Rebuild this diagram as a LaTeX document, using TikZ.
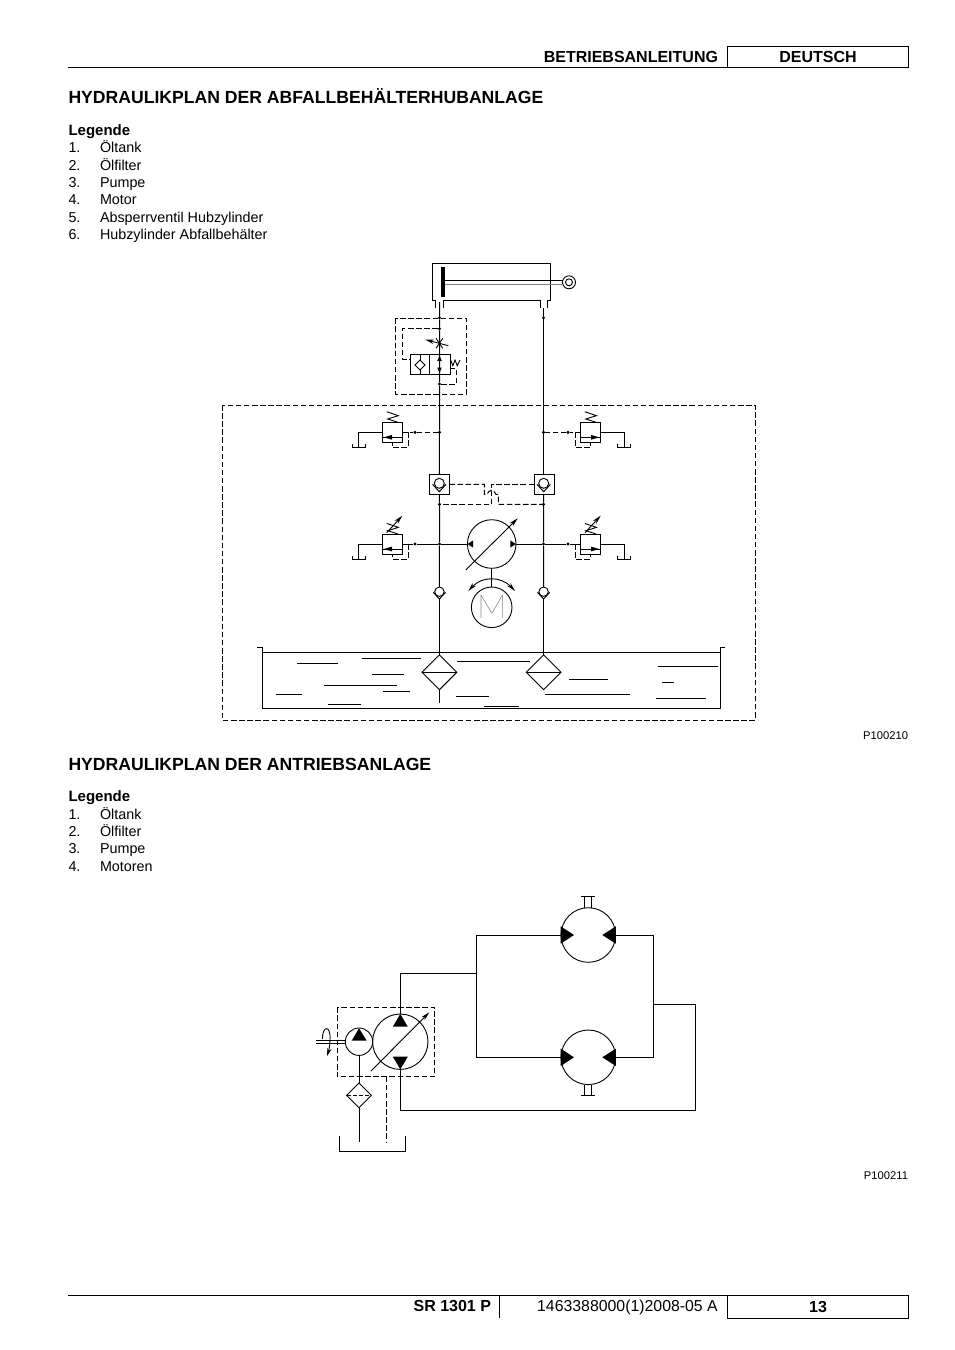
\documentclass[tikz,border=0pt]{standalone}
\usepackage{fontspec}
\setmainfont{Liberation Sans}
\newfontfamily\motorfont{Lato Hairline}
\usetikzlibrary{arrows.meta,shapes.geometric}
\begin{document}
\begin{tikzpicture}[x=1pt,y=-1pt,line width=1pt,
  head/.style={font=\fontsize{16}{18}\selectfont\bfseries,inner sep=0,outer sep=0},
  titel/.style={anchor=base west,font=\fontsize{17.6}{20}\selectfont\bfseries,inner sep=0},
  legtxt/.style={anchor=base west,font=\fontsize{14.35}{16}\selectfont,inner sep=0},
  legbf/.style={legtxt,font=\fontsize{15}{16}\selectfont\bfseries},
  foot/.style={anchor=base east,font=\fontsize{11.2}{13}\selectfont,inner sep=0},
  dsh/.style={dash pattern=on 5.5pt off 2.6pt},
  dot/.style={circle,fill,inner sep=0,minimum size=3.4pt,outer sep=0},
  sq/.style={draw,inner sep=0,outer sep=0,minimum size=20pt},
  rnd/.style={circle,draw,inner sep=0,outer sep=0,line width=.9pt},
  thn/.style={line width=.9pt},
  arr/.style={-{Stealth[length=9pt,width=4.4pt]},line width=.9pt}]
\useasboundingbox (0,0) rectangle (954,1350);
% page head
\coordinate (hl) at (68,67.5);
\coordinate (hr) at (727,67.5);
\draw (hl) -- (hr);
\node[draw,inner sep=0,outer sep=0,minimum width=181.5pt,minimum height=21.5pt,head] (lang) at (818,56.8){DEUTSCH};
\node[head,anchor=base east] (manual) at (718,62.5){BETRIEBSANLEITUNG};
% first legend
\node[titel] (tit1) at (68,103){HYDRAULIKPLAN DER ABFALLBEHÄLTERHUBANLAGE};
\node[legbf] (lega) at (68,135){Legende};
\foreach \n/\t/\y in {1/Öltank/152,2/Ölfilter/170,3/Pumpe/187,4/Motor/204,5/Absperrventil Hubzylinder/222,6/Hubzylinder Abfallbehälter/239}{
  \node[legtxt] (lan\n) at (68,\y){\n.};
  \node[legtxt] (lat\n) at (99.5,\y){\t};
}
\node[foot] (pa) at (908.5,739){P100210};
% cylinder
\draw (435.7,307.5) -- (435.7,300) -- (432,300) -- (432,263) -- (550.3,263) -- (550.3,300) -- (547.7,300) -- (547.7,307.5);
\draw (443.3,307.5) -- (443.3,300) -- (540.3,300) -- (540.3,307.5);
\node[fill,inner sep=0,outer sep=0,minimum width=3.8pt,minimum height=30pt] (pis) at (443.2,281.7){};
\node[rnd,minimum size=13pt] (eye) at (569,282.3){};
\node[rnd,minimum size=7pt] (eyei) at (569,282.3){};
\coordinate (roda) at (445,280.3);
\coordinate (rodb) at (563,280.3);
\coordinate (rodc) at (445,284.3);
\coordinate (rodd) at (563,284.3);
\draw (roda) -- (rodb);
\draw[gray,line width=1.5pt] (rodc) -- (rodd);
% shut-off valve
\node[dot] (lj1) at (439.5,317.7){};
\node[dot] (lj2) at (439.5,328.7){};
\node[dot] (lj3) at (439.5,384){};
\node[dot] (rj1) at (543.5,317.7){};
\draw[dsh] (395.7,318.3) rectangle (466.7,394);
\draw[dsh] (lj2) -- (402.3,328.7) -- (402.3,359) -- (410,359);
\draw[dsh] (lj3) -- (456.7,384) -- (456.7,368.5) -- (450.7,368.5);
\draw (410,354) rectangle (450.7,374.7);
\draw (429.7,354) -- (429.7,374.7);
\draw (420,354) -- (420,374.7);
\draw[fill=white,thn] (420,360) -- (425,365) -- (420,370) -- (415,365) -- cycle;
\fill (439.5,355.5) -- (441.8,361) -- (437.2,361) -- cycle;
\fill (439.5,373) -- (441.8,367.5) -- (437.2,367.5) -- cycle;
\draw[thn] (450.7,360) -- (452.8,365.7) -- (455,360) -- (457.3,365.7) -- (460,360);
\draw[arr] (448.3,345.7) -- (425,339.5);
\draw[thn] (436,338.3) -- (442.7,348.3);
\draw[thn] (442.7,338.3) -- (436,348.3);
% pressure side
\draw[dsh] (222,405) rectangle (755,720);
\node[sq] (cka) at (439.4,484.3){};
\node[sq] (ckb) at (544,484.3){};
\node[dot] (lj4) at (439.5,432.3){};
\node[dot] (rj4) at (543.5,432.3){};
\node[dot] (lj5) at (439.5,504.3){};
\node[dot] (rj5) at (543.5,504.3){};
\node[dot] (lj6) at (439.5,544){};
\node[dot] (rj6) at (543.5,544){};
\coordinate (cyla) at (439.5,302);
\coordinate (cylb) at (543.5,307.5);
\draw (cyla) -- (lj1) -- (lj2) -- (lj3) -- (lj4) -- (cka.north);
\draw (cylb) -- (rj1) -- (rj4) -- (ckb.north -| rj4);
\foreach \c/\k in {439.3/a,543.7/b}{
  \node[rnd,minimum size=10pt] (cki\k) at (\c,483.3){};
  \draw (\c-6.7,484.3) -- (\c,491.7) -- (\c+6.7,484.3);
}
\draw[dsh] (cka.east) -- (484.3,484.3) -- (484.3,494.3) -- (487,494.3) .. controls (489,489) and (494,489) .. (496,494.3) -- (498.3,494.3) -- (498.3,504.3) -- (rj5);
\draw[dsh] (ckb.west) -- (491.7,484.3) -- (491.7,504.3) -- (lj5);
% relief valves
\foreach \i/\vy/\vs in {1/432.3/1,2/432.3/-1,3/544/1,4/544/-1}{
  \begin{scope}[shift={(491.5,\vy)},xscale=\vs]
    \node[sq] (rv\i) at (-99.2,0){};
    \node[dot] (rvd\i) at (-76.5,0){};
    \coordinate (rvo\i) at (-89.2,0);
    \coordinate (rvt\i) at (-109.2,0);
    \coordinate (rvc\i) at (-133.2,15);
    \draw (rvt\i) -- (-133.2,0) -- (rvc\i);
    \draw (-139.2,12) -- (-139.2,15) -- (-125.8,15) -- (-125.8,12);
    \draw (-109.2,5) -- (-89.2,5);
    \fill (-107.6,5) -- (-99.5,2.6) -- (-99.5,7.4) -- cycle;
    \draw[dsh] (-83.5,0) -- (-83.5,15) -- (-99.2,15) -- (-99.2,10);
  \end{scope}
}
\foreach \vx/\vy in {382.3/432.3,580.4/432.3,382.3/544,580.4/544}{
  \draw[thn] (\vx+15.7,\vy-10) -- (\vx+5.4,\vy-13.3) -- (\vx+16,\vy-16.6) -- (\vx+4.4,\vy-20.6);
}
\draw[arr] (386.7,532.7) -- (402.3,515.7);
\draw[arr] (585,532.7) -- (600.7,515.7);
\draw[dsh] (rvo1) -- (rvd1) -- (lj4);
\draw[dsh] (rvo2) -- (rvd2) -- (rj4);
% pump and motor
\node[rnd,minimum size=48.6pt] (pump) at (491.7,544){};
\node[rnd,minimum size=40.6pt] (motor) at (491.7,607.3){};
\node[inner sep=0,font=\fontsize{33}{33}\motorfont] (mlet) at (491.7,607){M};
\draw (pump.south) -- (motor.north);
\draw (rvo3) -- (rvd3) -- (lj6) -- (pump.west);
\draw (rvo4) -- (rvd4) -- (rj6) -- (pump.east);
\fill (467.5,544) -- (473,540.5) -- (473,547.5) -- cycle;
\fill (515.9,544) -- (510.4,540.5) -- (510.4,547.5) -- cycle;
\draw[arr] (465.7,570) -- (517.7,518.3);
\draw[{Stealth[length=9pt,width=4.4pt]}-{Stealth[length=9pt,width=4.4pt]},line width=.9pt] (468.3,591) .. controls (482,576) and (501,576) .. (515,591);
% suction side
\foreach \c/\k in {439.4/a,543.6/b}{
  \node[rnd,minimum size=9.4pt] (sck\k) at (\c,591.7){};
  \draw (\c-6.1,592.3) -- (\c,599) -- (\c+6.1,592.3);
  \node[draw,thn,diamond,inner sep=0,outer sep=0,minimum size=34.8pt] (fil\k) at (\c,672.3){};
  \coordinate (sup\k) at (\c,599);
  \draw (fil\k.west) -- (fil\k.east);
  \draw (sup\k) -- (fil\k.north);
}
\coordinate (ca) at (cka.south);
\coordinate (cb) at (ckb.south -| rj6);
\draw (ca) -- (lj5) -- (lj6) -- (scka.north);
\draw (cb) -- (rj5) -- (rj6) -- (sckb.north);
\coordinate (ftb) at (439.4,703.3);
\draw (fila.south) -- (ftb);
% tank
\draw (257.3,647.3) -- (262.3,647.3) -- (262.3,708.3) -- (720.3,708.3) -- (720.3,647.3) -- (725.3,647.3);
\draw (262.3,652.3) -- (720.3,652.3);
\foreach \xa/\xb/\y in {297.3/338.3/663.3,362.3/420.7/658.3,372.3/404/674.3,324/396.7/685,383.3/409.7/691.3,276/302.3/694,328/361/704.3,457.3/530/661,455.7/489/696.3,484/519.3/706.3,569/607.7/679.3,545.3/630/694,658/718.3/666,662/674/682.3,656.3/705.7/698.3}{
  \draw (\xa,\y) -- (\xb,\y);
}
% second part
\node[titel] (tit2) at (68,770){HYDRAULIKPLAN DER ANTRIEBSANLAGE};
\node[legbf] (legb) at (68,801){Legende};
\foreach \n/\t/\y in {1/Öltank/819,2/Ölfilter/836,3/Pumpe/853,4/Motoren/871}{
  \node[legtxt] (lbn\n) at (68,\y){\n.};
  \node[legtxt] (lbt\n) at (99.5,\y){\t};
}
\node[foot] (pb) at (908.5,1179){P100211};
% drive motors
\node[rnd,minimum size=54.6pt] (mota) at (588.3,935){};
\node[rnd,minimum size=54.6pt] (motb) at (588.3,1057.3){};
\foreach \y/\s in {935/-1,1057.3/1}{
  \fill (560.7,\y-8.7) -- (574,\y) -- (560.7,\y+8.7) -- cycle;
  \fill (615.9,\y-8.7) -- (602.3,\y) -- (615.9,\y+8.7) -- cycle;
  \draw[thn] (584.7,\y+\s*27.3) -- (584.7,\y+\s*38.4);
  \draw[thn] (591.3,\y+\s*27.3) -- (591.3,\y+\s*38.4);
  \draw[thn] (580.7,\y+\s*38.4) -- (595.3,\y+\s*38.4);
}
% drive pump
\draw[dsh] (337.3,1007.3) rectangle (434.7,1076.7);
\node[rnd,minimum size=27.4pt] (chg) at (359,1041.7){};
\node[rnd,minimum size=55.4pt] (drv) at (400.3,1041.7){};
\fill (359,1028.3) -- (366.7,1040.7) -- (351.7,1040.7) -- cycle;
\fill (400.3,1014) -- (407.8,1026.7) -- (392.8,1026.7) -- cycle;
\fill (400.3,1069.3) -- (407.8,1056.7) -- (392.8,1056.7) -- cycle;
\draw[arr] (371,1071) -- (429.3,1012.3);
\coordinate (ja) at (400.3,973);
\coordinate (jb) at (476,973);
\coordinate (jc) at (476,935);
\coordinate (jd) at (476,1057.3);
\coordinate (je) at (653.3,935);
\coordinate (jf) at (653.3,1057.3);
\coordinate (jg) at (653.3,1004);
\coordinate (jh) at (695,1004);
\coordinate (ji) at (695,1110.3);
\coordinate (jj) at (400.3,1110.3);
\draw (drv.north) -- (ja) -- (jb);
\draw (jc) -- (jd);
\draw (jc) -- (mota.west);
\draw (jd) -- (motb.west);
\draw (mota.east) -- (je) -- (jf) -- (motb.east);
\draw (jg) -- (jh) -- (ji) -- (jj) -- (drv.south);
% shaft
\coordinate (sfa) at (315.7,1040);
\coordinate (sfb) at (315.7,1043.3);
\draw[thn] (sfa) -- (chg.west |- sfa);
\draw[thn] (sfb) -- (chg.west |- sfb);
\draw[-{Stealth[length=8pt,width=4.4pt]},line width=.9pt] (322.5,1039) .. controls (322,1026) and (331,1024) .. (330,1040) .. controls (330,1045) and (329,1050) .. (327,1056);
% suction filter and small tank
\node[draw,thn,diamond,inner sep=0,outer sep=0,minimum size=24.8pt] (filt) at (359,1095.3){};
\coordinate (ftl) at (359,1141.7);
\coordinate (dra) at (386.3,1076.7);
\coordinate (drb) at (386.3,1141.7);
\draw (chg.south) -- (filt.north);
\draw (filt.south) -- (ftl);
\draw[dash pattern=on 4pt off 2.2pt,thn] (filt.west) -- (filt.east);
\draw[dsh,thn] (dra) -- (drb);
\draw (339.7,1135.7) -- (339.7,1151) -- (405.3,1151) -- (405.3,1135.7);
% page foot
\coordinate (fl) at (68,1295.5);
\coordinate (fr) at (727.5,1295.5);
\coordinate (sa) at (499.3,1295.5);
\coordinate (sb) at (499.3,1318);
\draw (fl) -- (fr);
\draw (sa) -- (sb);
\node[draw,inner sep=0,outer sep=0,minimum width=181pt,minimum height=23pt,head] (page) at (818,1306.8){13};
\node[head,anchor=base east] (sr) at (491,1311.5){SR 1301 P};
\node[anchor=base east,inner sep=0,font=\fontsize{15.85}{18}\selectfont] (doc) at (718.3,1311.5){1463388000(1)2008-05 A};
\end{tikzpicture}
\end{document}
